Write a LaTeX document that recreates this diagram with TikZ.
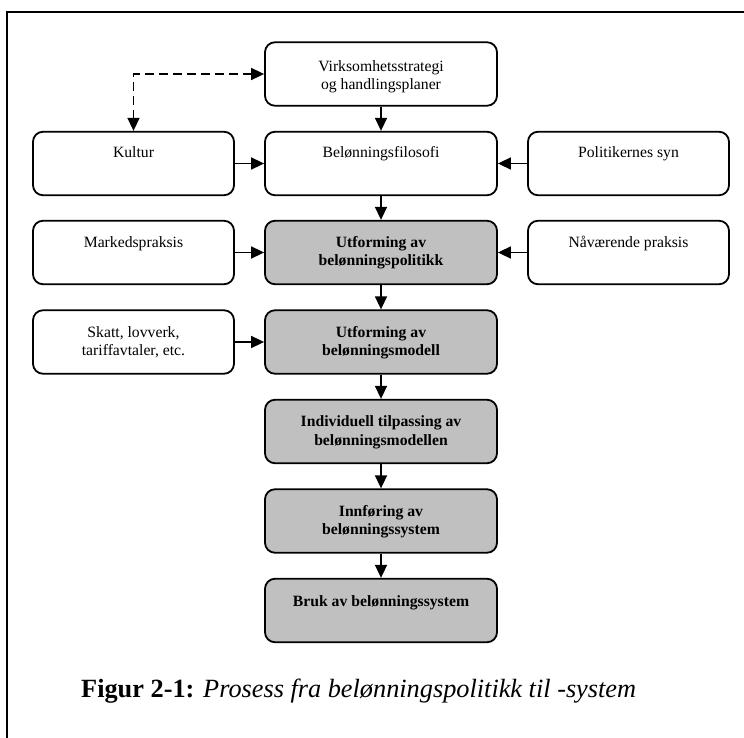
\documentclass[tikz,border=0pt]{standalone}
\usepackage{fontspec}
\setmainfont{Liberation Serif}
\usetikzlibrary{arrows.meta}
\definecolor{boxgray}{HTML}{C0C0C0}
\begin{document}
\begin{tikzpicture}[x=1pt,y=-1pt,
  boxbase/.style={draw, line width=1.8pt, rounded corners=10pt,
    minimum width=#1, minimum height=63.5pt, inner sep=0pt},
  sidebox/.style={boxbase=201pt, fill=white},
  mainbox/.style={boxbase=232pt, fill=white},
  graybox/.style={boxbase=232pt, fill=boxgray},
  txt/.style={anchor=base, align=center, inner sep=0pt,
    font=\fontsize{15.7}{18.5}\selectfont},
  btxt/.style={txt, font=\fontsize{15.7}{18.5}\selectfont\bfseries},
  flow/.style={line width=1.6pt, -{Triangle[length=13pt,width=12pt]}},
  dashflow/.style={line width=1.6pt, dash pattern=on 9pt off 5pt,
    {Triangle[length=13pt,width=12pt]}-{Triangle[length=13pt,width=12pt]}}]
\useasboundingbox (0,0) rectangle (744,738);

% open frame: top and left edges only
\draw[line width=1.6pt] (7,738) -- (7,12) -- (744,12);

% boxes
\node[mainbox] (virk) at (381,74) {};
\node[sidebox] (kultur) at (133.5,163.5) {};
\node[mainbox] (filo) at (381,163.5) {};
\node[sidebox] (pol) at (628.5,163.5) {};
\node[sidebox] (marked) at (133.5,252.5) {};
\node[graybox] (politikk) at (381,252.5) {};
\node[sidebox] (naa) at (628.5,252.5) {};
\node[sidebox] (skatt) at (133.5,342) {};
\node[graybox] (modell) at (381,342) {};
\node[graybox] (indiv) at (381,431.5) {};
\node[graybox] (innf) at (381,521) {};
\node[graybox] (bruk) at (381,610.5) {};

% box texts, set from the top of each box
% (a two-line node has its base on the last line, hence the larger shift)
\node[txt] (tvirk) at ([yshift=-48.5pt]virk.north) {Virksomhetsstrategi\\og handlingsplaner};
\node[txt] (tkultur) at ([yshift=-27pt]kultur.north) {Kultur};
\node[txt] (tfilo) at ([yshift=-27pt]filo.north) {Belønningsfilosofi};
\node[txt] (tpol) at ([yshift=-27pt]pol.north) {Politikernes syn};
\node[txt] (tmarked) at ([yshift=-27.5pt]marked.north) {Markedspraksis};
\node[btxt] (tpolitikk) at ([yshift=-46pt]politikk.north) {Utforming av\\belønningspolitikk};
\node[txt] (tnaa) at ([yshift=-27.5pt]naa.north) {Nåværende praksis};
\node[txt] (tskatt) at ([yshift=-46.5pt]skatt.north) {Skatt, lovverk,\\tariffavtaler, etc.};
\node[btxt] (tmodell) at ([yshift=-46.5pt]modell.north) {Utforming av\\belønningsmodell};
\node[btxt] (tindiv) at ([yshift=-46.5pt]indiv.north) {Individuell tilpassing av\\belønningsmodellen};
\node[btxt] (tinnf) at ([yshift=-46.5pt]innf.north) {Innføring av\\belønningssystem};
\node[btxt] (tbruk) at ([yshift=-29pt]bruk.north) {Bruk av belønningssystem};

% connectors
\draw[dashflow] (virk.west) -| (kultur.north);
\draw[flow] (virk.south) -- (filo.north);
\draw[flow] (kultur.east) -- (filo.west);
\draw[flow] (pol.west) -- (filo.east);
\draw[flow] (filo.south) -- (politikk.north);
\draw[flow] (marked.east) -- (politikk.west);
\draw[flow] (naa.west) -- (politikk.east);
\draw[flow] (politikk.south) -- (modell.north);
\draw[flow] (skatt.east) -- (modell.west);
\draw[flow] (modell.south) -- (indiv.north);
\draw[flow] (indiv.south) -- (innf.north);
\draw[flow] (innf.south) -- (bruk.north);

% caption
\node[anchor=base west, inner sep=0pt, font=\fontsize{26.3}{30}\selectfont] (cap) at (81,697)
  {\textbf{Figur 2-1:} \textit{Prosess fra belønningspolitikk til -system}};
\end{tikzpicture}
\end{document}
